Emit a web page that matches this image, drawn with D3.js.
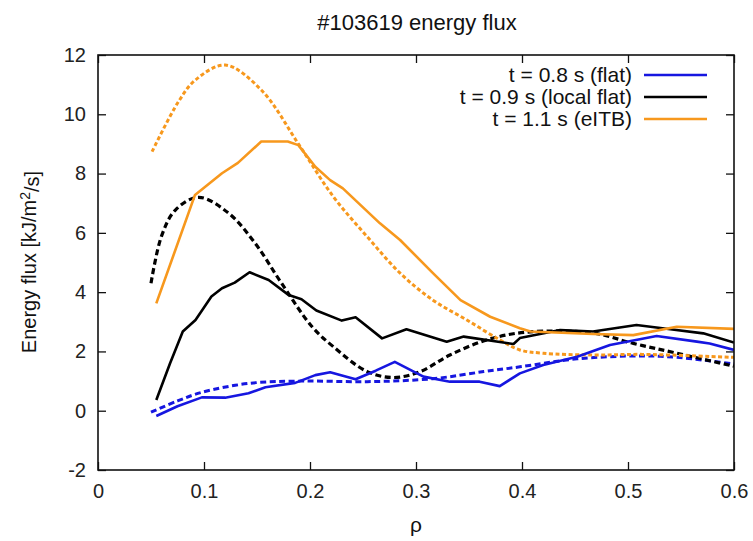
<!DOCTYPE html>
<html lang="en">
<head>
<meta charset="utf-8">
<title>#103619 energy flux</title>
<script src="https://cdn.jsdelivr.net/npm/d3@7"></script>
<style>
    body { margin: 0; background: #fff; }
    text { font-family: "Liberation Sans", Arial, Helvetica, sans-serif; }
</style>
</head>
<body>
<script>
    // values: [rho, flux]
    var flat_meas = [[0.055,-0.18],[0.075,0.15],[0.098,0.45],[0.12,0.44],[0.142,0.59],[0.158,0.79],[0.186,0.94],[0.205,1.2],[0.219,1.3],[0.243,1.06],[0.262,1.35],[0.28,1.65],[0.307,1.15],[0.332,0.98],[0.36,0.98],[0.379,0.83],[0.398,1.26],[0.42,1.54],[0.452,1.82],[0.483,2.22],[0.527,2.52],[0.565,2.33],[0.577,2.27],[0.6,2.05]];
    var flat_model = [[0.05,-0.05],[0.075,0.33],[0.098,0.62],[0.142,0.92],[0.192,1.0],[0.254,0.98],[0.316,1.08],[0.364,1.32],[0.398,1.48],[0.452,1.75],[0.514,1.85],[0.546,1.8],[0.6,1.58]];
    var local_meas = [[0.055,0.36],[0.068,1.6],[0.08,2.67],[0.092,3.06],[0.107,3.85],[0.117,4.13],[0.129,4.32],[0.143,4.67],[0.161,4.41],[0.18,3.9],[0.192,3.76],[0.206,3.38],[0.23,3.04],[0.243,3.15],[0.268,2.44],[0.291,2.75],[0.329,2.33],[0.345,2.5],[0.392,2.25],[0.398,2.45],[0.436,2.72],[0.467,2.67],[0.508,2.89],[0.54,2.75],[0.571,2.61],[0.6,2.3]];
    var local_model = [[0.05,4.3],[0.06,5.9],[0.073,6.77],[0.095,7.2],[0.123,6.67],[0.148,5.66],[0.173,4.31],[0.202,2.83],[0.222,2.16],[0.254,1.32],[0.279,1.12],[0.304,1.32],[0.332,1.88],[0.367,2.39],[0.404,2.65],[0.467,2.62],[0.505,2.27],[0.546,1.94],[0.6,1.5]];
    var eitb_meas = [[0.055,3.62],[0.0915,7.28],[0.117,8.01],[0.132,8.36],[0.154,9.08],[0.179,9.08],[0.189,8.96],[0.205,8.23],[0.219,7.78],[0.231,7.5],[0.266,6.32],[0.285,5.76],[0.316,4.64],[0.342,3.73],[0.37,3.17],[0.398,2.78],[0.408,2.67],[0.467,2.59],[0.505,2.55],[0.546,2.83],[0.6,2.76]];
    var eitb_model = [[0.051,8.74],[0.076,10.43],[0.092,11.16],[0.12,11.66],[0.154,10.82],[0.19,8.95],[0.222,7.22],[0.254,5.87],[0.285,4.64],[0.316,3.73],[0.348,3.06],[0.379,2.39],[0.398,2.05],[0.42,1.94],[0.467,1.88],[0.514,1.9],[0.6,1.8]];

    var series_labels = ["t = 0.8 s (flat)", "t = 0.9 s (local flat)", "t = 1.1 s (eITB)"];
    var series_colors = ["#1616e0", "#000000", "#f7981d"];
    var xticks = [0, 0.1, 0.2, 0.3, 0.4, 0.5, 0.6];
    var yticks = [-2, 0, 2, 4, 6, 8, 10, 12];

    var width = 753, height = 541;
    var m = { left: 98, right: 734, top: 55, bottom: 470 };

    var svg = d3.select("body").append("svg")
        .attr("width", width)
        .attr("height", height);

    var x = d3.scaleLinear().domain([0, 0.6]).range([m.left, m.right]);
    var y = d3.scaleLinear().domain([-2, 12]).range([m.bottom, m.top]);

    svg.append("clipPath").attr("id", "plot-clip")
        .append("rect")
        .attr("x", m.left).attr("y", m.top)
        .attr("width", m.right - m.left).attr("height", m.bottom - m.top);

    var solid = d3.line().x(d => x(d[0])).y(d => y(d[1]));
    var smooth = d3.line().x(d => x(d[0])).y(d => y(d[1])).curve(d3.curveCatmullRom);

    var curves = [
        { data: flat_model, color: series_colors[0], dash: "6,3.5", gen: smooth, w: 3 },
        { data: local_model, color: series_colors[1], dash: "6,3.5", gen: smooth, w: 3.2 },
        { data: eitb_model, color: series_colors[2], dash: "4,2.5", gen: smooth, w: 3 },
        { data: flat_meas, color: series_colors[0], dash: null, gen: solid, w: 2.6 },
        { data: local_meas, color: series_colors[1], dash: null, gen: solid, w: 2.6 },
        { data: eitb_meas, color: series_colors[2], dash: null, gen: solid, w: 2.6 }
    ];

    var g = svg.append("g").attr("clip-path", "url(#plot-clip)");
    curves.forEach(c => {
        g.append("path")
            .attr("d", c.gen(c.data))
            .attr("fill", "none")
            .attr("stroke", c.color)
            .attr("stroke-width", c.w)
            .attr("stroke-dasharray", c.dash)
            .attr("stroke-linejoin", "round");
    });

    // axes with inward ticks on all four sides
    var tickLen = 8;
    var fs = 20;
    svg.append("g").attr("transform", `translate(0,${m.bottom})`)
        .call(d3.axisBottom(x).tickValues(xticks).tickSizeInner(-tickLen).tickSizeOuter(0)
            .tickFormat(d => d === 0 ? "0" : d3.format(".1f")(d)))
        .call(a => a.select(".domain").remove())
        .call(a => a.selectAll("text").attr("y", 14).attr("dy", "0.71em").attr("font-size", fs).attr("fill", "#222"));
    svg.append("g").attr("transform", `translate(0,${m.top})`)
        .call(d3.axisTop(x).tickValues(xticks).tickSizeInner(-tickLen).tickSizeOuter(0).tickFormat(""))
        .call(a => a.select(".domain").remove());
    svg.append("g").attr("transform", `translate(${m.left},0)`)
        .call(d3.axisLeft(y).tickValues(yticks).tickSizeInner(-tickLen).tickSizeOuter(0)
            .tickFormat(d => String(d)))
        .call(a => a.select(".domain").remove())
        .call(a => a.selectAll("text").attr("x", -12).attr("font-size", fs).attr("fill", "#222"));
    svg.append("g").attr("transform", `translate(${m.right},0)`)
        .call(d3.axisRight(y).tickValues(yticks).tickSizeInner(-tickLen).tickSizeOuter(0).tickFormat(""))
        .call(a => a.select(".domain").remove());
    svg.selectAll(".tick line").attr("stroke", "#111").attr("stroke-width", 1.3);
    svg.selectAll(".tick text").attr("font-family", "'Liberation Sans', Arial, sans-serif");

    svg.append("rect")
        .attr("x", m.left).attr("y", m.top)
        .attr("width", m.right - m.left).attr("height", m.bottom - m.top)
        .attr("fill", "none").attr("stroke", "#111").attr("stroke-width", 1.6);

    // legend
    var legend = svg.append("g");
    series_labels.forEach((s, i) => {
        var ly = 75 + i * 22;
        legend.append("text")
            .attr("x", 632).attr("y", ly).attr("dy", "0.35em")
            .attr("text-anchor", "end")
            .attr("font-size", 21)
            .attr("fill", "#111")
            .text(s);
        legend.append("line")
            .attr("x1", 644).attr("x2", 707)
            .attr("y1", ly).attr("y2", ly)
            .attr("stroke", series_colors[i])
            .attr("stroke-width", 2.6);
    });

    // titles
    svg.append("text")
        .attr("x", 417).attr("y", 30)
        .attr("text-anchor", "middle")
        .attr("font-size", 22)
        .attr("fill", "#111")
        .text("#103619 energy flux");

    svg.append("text")
        .attr("x", 416).attr("y", 532)
        .attr("text-anchor", "middle")
        .attr("font-size", 21)
        .attr("fill", "#111")
        .text("ρ");

    var ylab = svg.append("text")
        .attr("transform", "translate(36,262) rotate(-90)")
        .attr("text-anchor", "middle")
        .attr("font-size", 20)
        .attr("fill", "#111");
    ylab.append("tspan").text("Energy flux [kJ/m");
    ylab.append("tspan").attr("dy", "-0.45em").attr("font-size", 14).text("2");
    ylab.append("tspan").attr("dy", "0.45em").text("/s]");
</script>
</body>
</html>
